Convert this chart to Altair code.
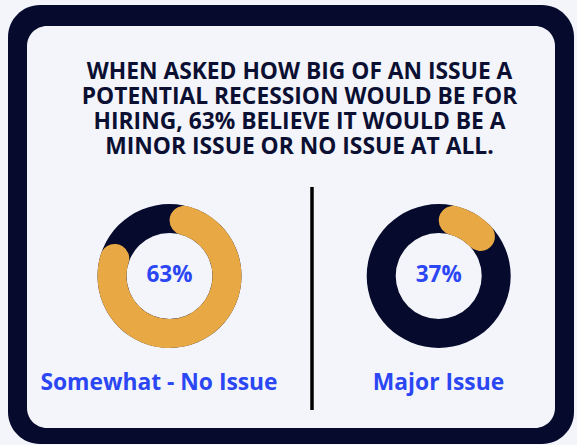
import math
import altair as alt
import pandas as pd

# ---- data ----
donut_names = ["Somewhat - No Issue", "Major Issue"]
pct_labels = ["63%", "37%"]
gold_start = [0, 0]      # share of circle where the gold arc begins (%)
gold_end = [84, 17]      # share of circle where the gold arc ends (%)
title_lines = [
    "WHEN ASKED HOW BIG OF AN ISSUE A",
    "POTENTIAL RECESSION WOULD BE FOR",
    "HIRING, 63% BELIEVE IT WOULD BE A",
    "MINOR ISSUE OR NO ISSUE AT ALL.",
]

NAVY = "#060b2e"
GOLD = "#e8a945"
BLUE = "#2b46f3"
BG = "#f4f5fb"
FONT = "Open Sans"

df = pd.DataFrame({
    "donut": donut_names,
    "pct": pct_labels,
    "g0": gold_start,
    "g1": gold_end,
    "ring0": [0, 0],
    "ring1": [100, 100],
})
title_df = pd.DataFrame({"line": list(range(len(title_lines))), "text": title_lines})
one = pd.DataFrame({"a": [1]})

theta_scale = alt.Scale(domain=[0, 100], range=[0, 2 * math.pi])
xdonut = alt.X("donut:N", axis=None,
               scale=alt.Scale(type="point", padding=0, domain=donut_names, range=[169.5, 438.7]))
xlabel = alt.X("donut:N", axis=None,
               scale=alt.Scale(type="point", padding=0, domain=donut_names, range=[159, 438.5]))

frame_outer = alt.Chart(one).mark_rect(color=NAVY, cornerRadius=32).encode(
    x=alt.value(8), x2=alt.value(574), y=alt.value(5), y2=alt.value(444))
frame_inner = alt.Chart(one).mark_rect(color=BG, cornerRadius=20).encode(
    x=alt.value(27), x2=alt.value(555), y=alt.value(26), y2=alt.value(428))

title = alt.Chart(title_df).mark_text(
    font=FONT, fontSize=22.8, fontWeight="bold", color="#0b1033",
    align="center", baseline="alphabetic",
).encode(
    x=alt.value(299.5),
    y=alt.Y("line:O", axis=None,
            scale=alt.Scale(type="point", padding=0, range=[78.5, 153.5])),
    text="text:N",
)

divider = alt.Chart(one).mark_rule(color="#000000", strokeWidth=3.5).encode(
    x=alt.value(312), y=alt.value(187), y2=alt.value(410))

ring = alt.Chart(df).mark_arc(radius=72, radius2=43, color=NAVY).encode(
    x=xdonut, y=alt.value(276),
    theta=alt.Theta("ring0:Q", scale=theta_scale, stack=None), theta2="ring1:Q")

gold = alt.Chart(df).mark_arc(radius=72, radius2=43, color=GOLD, cornerRadius=14.5).encode(
    x=xdonut, y=alt.value(276),
    theta=alt.Theta("g0:Q", scale=theta_scale, stack=None), theta2="g1:Q")

pct = alt.Chart(df).mark_text(
    font=FONT, fontSize=22.5, fontWeight="bold", color=BLUE, baseline="alphabetic"
).encode(x=xdonut, y=alt.value(282), text="pct:N")

donuts = alt.layer(ring, gold, pct)

labels = alt.Chart(df).mark_text(
    font=FONT, fontSize=22.8, fontWeight="bold", color=BLUE, baseline="alphabetic"
).encode(x=xlabel, y=alt.value(390), text="donut:N")

chart = alt.layer(frame_outer, frame_inner, title, divider, donuts, labels).resolve_scale(
    x="independent", y="independent"
).properties(
    width=577, height=445, padding=0, autosize="none", background=BG
).configure_view(strokeWidth=0)

chart.save("out.html", embed_options={"renderer": "svg", "actions": False})
